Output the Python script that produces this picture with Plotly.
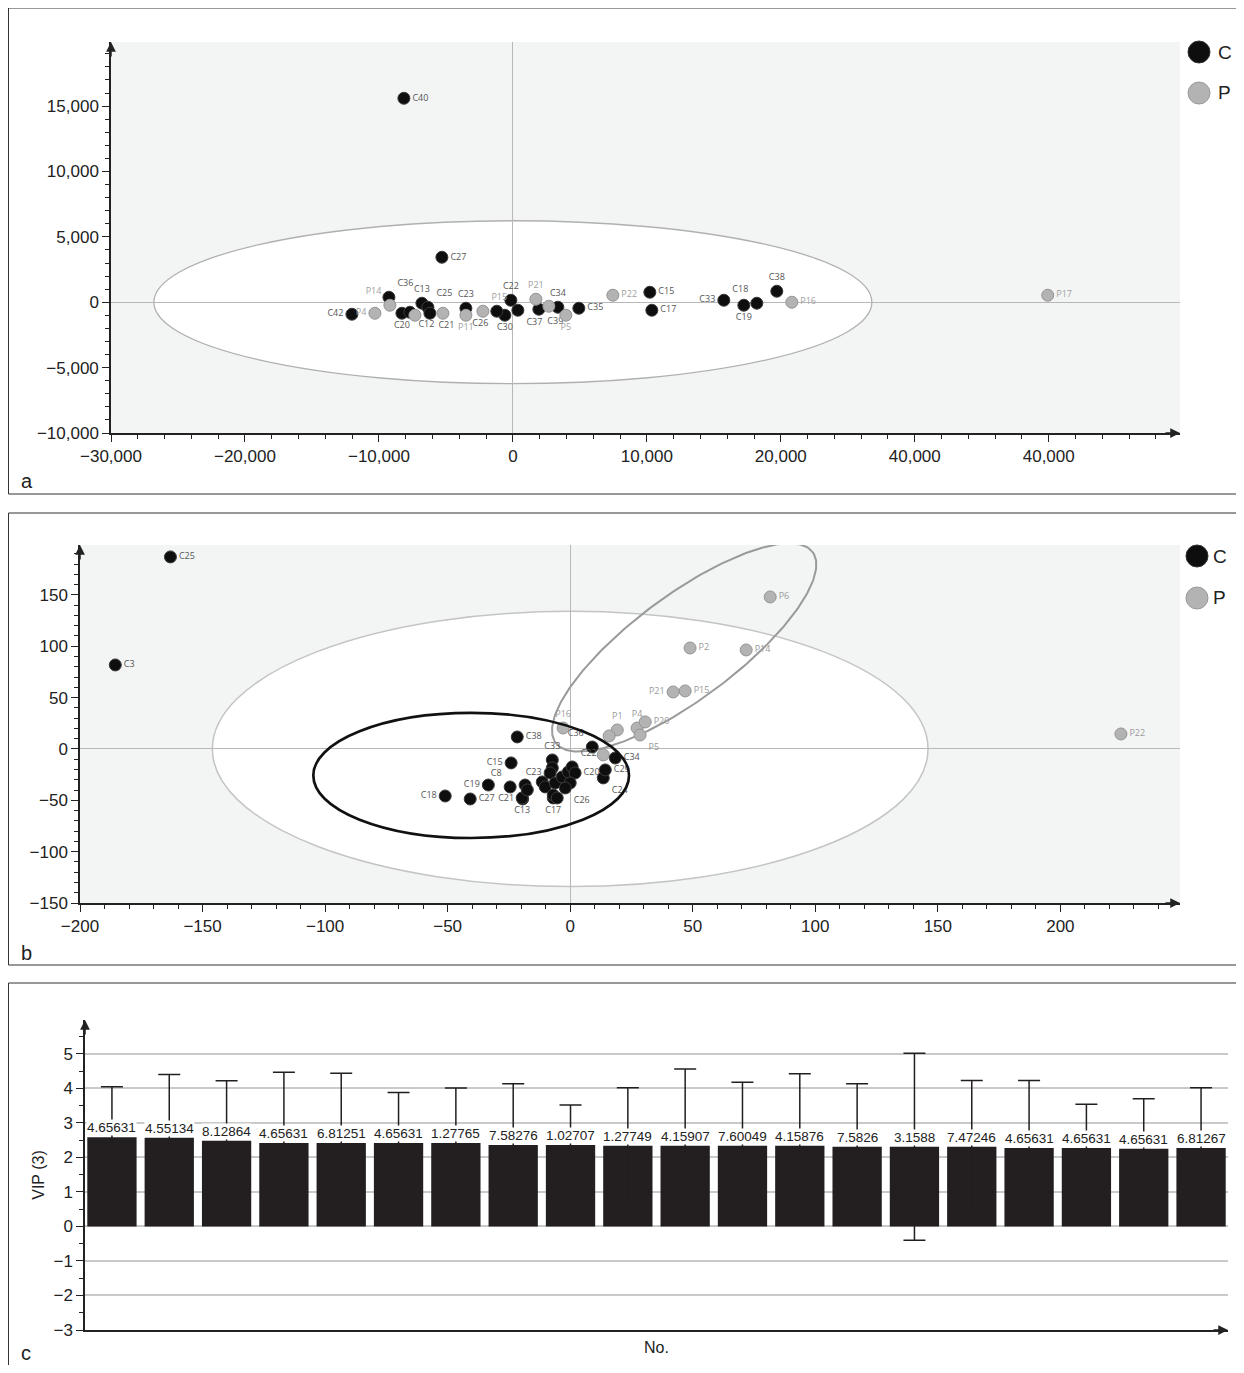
import numpy as np
import plotly.graph_objects as go

# ---------------- DATA ----------------
# Panel a (score plot)
a_C_names = ["C40", "C27", "C42", "C36", "C20", "C12", "C13", "C25", "C21", "C23", "C22", "C30", "C37", "C26",
             "C39", "C34", "C35", "C15", "C17", "C33", "C19", "C18", "C38"]
a_C_x = [-8135, -5299, -12015, -9254, -8284, -7687, -6791, -6343, -6194, -3508, -149, -597, 373, -1200,
         1940, 3358, 4925, 10224, 10373, 15747, 17240, 18210, 19702]
a_C_y = [15596, 3440, -917, 382, -841, -765, -76, -382, -841, -459, 153, -994, -612, -688,
         -535, -382, -459, 765, -612, 153, -229, -76, 841]
a_C_pos = ["middle right", "middle right", "middle left", "top right", "bottom center", "bottom right", "top center",
           "top right", "bottom right", "top center", "top center", "bottom center", "bottom right", "bottom left",
           "bottom right", "top center", "middle right", "middle right", "middle right", "middle left",
           "bottom center", "top left", "top center"]

a_P_names = ["P14", "P4", "", "", "P11", "P15", "P21", "", "P5", "P22", "P16", "P17"]
a_P_x = [-9179, -10299, -7314, -5224, -3508, -2239, 1716, 2687, 3955, 7463, 20822, 39927]
a_P_y = [-229, -841, -994, -841, -994, -688, 229, -306, -994, 535, 0, 535]
a_P_pos = ["top left", "middle left", "middle right", "middle right", "bottom center", "top right", "top center",
           "middle right", "bottom center", "middle right", "middle right", "middle right"]

a_xticks = [-30000, -20000, -10000, 0, 10000, 20000, 30000, 40000]
a_xticktext = ["\u221230,000", "\u221220,000", "\u221210,000", "0", "10,000", "20,000", "40,000", "40,000"]
a_yticks = [-10000, -5000, 0, 5000, 10000, 15000]
a_yticktext = ["\u221210,000", "\u22125,000", "0", "5,000", "10,000", "15,000"]

# Panel b
b_C_names = ["C25", "C3", "C38", "C36", "C15", "C19", "C27", "C18", "C21", "C8", "C13", "C17", "C24", "C29", "C34",
             "", "", "C33", "", "C23", "", "", "", "", "", "", "", "C22", "C20", "", "C26"]
b_C_x = [-163.1, -185.6, -21.6, 9.0, -24.1, -33.4, -40.8, -51.0, -19.4, -24.5, -19.6, -6.9, 13.5, 14.3, 18.4,
         -18.4, -17.5, -7.3, -7.3, -8.2, -11.4, -10.2, -6.1, -6.9, -5.3, -3.3, -0.8, 0.8, 2.0, 0.0, -2.0]
b_C_y = [187.0, 81.8, 11.7, 1.9, -13.6, -35.1, -48.7, -45.8, -48.7, -37.0, -47.7, -47.7, -28.2, -20.4, -8.8,
         -35.1, -39.9, -10.7, -18.5, -23.4, -32.1, -37.0, -33.1, -44.8, -47.7, -27.3, -22.4, -17.5, -23.4, -33.1, -38.0]
b_C_pos = ["middle right", "middle right", "middle right", "top left", "middle left", "middle left", "middle right",
           "middle left", "middle left", "top left", "bottom center", "bottom center", "bottom right",
           "middle right", "middle right", "middle right", "middle right", "top center", "middle right",
           "middle left", "middle right", "middle right", "middle right", "middle right", "middle right",
           "middle right", "middle right", "top right", "middle right", "middle right", "bottom right"]

b_P_names = ["P6", "P2", "P14", "P21", "P15", "P22", "P16", "P1", "", "P4", "P20", "P5", ""]
b_P_x = [81.6, 48.9, 71.8, 42.0, 46.9, 224.7, -2.9, 19.2, 15.9, 27.3, 30.6, 28.5, 13.5]
b_P_y = [148.0, 98.3, 96.4, 55.5, 56.5, 14.6, 20.4, 18.5, 12.7, 20.4, 26.3, 13.6, -5.8]
b_P_pos = ["middle right", "middle right", "middle right", "middle left", "middle right", "middle right",
           "top center", "top center", "middle right", "top center", "middle right", "bottom right", "middle right"]

b_xticks = [-200, -150, -100, -50, 0, 50, 100, 150, 200]
b_yticks = [-150, -100, -50, 0, 50, 100, 150]

# Panel c (VIP)
c_values = [2.58, 2.57, 2.48, 2.42, 2.42, 2.42, 2.42, 2.36, 2.36, 2.34,
            2.34, 2.34, 2.34, 2.31, 2.31, 2.31, 2.27, 2.27, 2.25, 2.27]
c_errors = [1.47, 1.83, 1.74, 2.05, 2.02, 1.46, 1.59, 1.77, 1.16, 1.68,
            2.22, 1.84, 2.08, 1.82, 2.71, 1.92, 1.96, 1.27, 1.45, 1.75]
c_labels = ["4.65631", "4.55134", "8.12864", "4.65631", "6.81251", "4.65631", "1.27765", "7.58276", "1.02707",
            "1.27749", "4.15907", "7.60049", "4.15876", "7.5826", "3.1588", "7.47246", "4.65631", "4.65631",
            "4.65631", "6.81267"]

# ---------------- LAYOUT CONSTANTS ----------------
OFF = 8                      # page body margin
W, H = 1236, 1357
FONT = "Liberation Sans, Arial, sans-serif"
NARROW = "Liberation Sans Narrow, Arial Narrow, Liberation Sans, sans-serif"
LBLFONT = "Open Sans, DejaVu Sans, sans-serif"
AXC = "#222222"
BG = "#f3f5f5"
CCOL, PCOL = "#0e0e0e", "#b3b3b3"
BARC = "#231f20"


def px_x(p):
    return (p - OFF) / W


def px_y(p):
    return 1 - (p - OFF) / H


a_xdom = [px_x(111), px_x(1180)]
a_ydom = [px_y(433), px_y(42)]
a_xr = [-30000, 49800]
a_yr = [-10000, 19900]

b_xdom = [px_x(80), px_x(1180)]
b_ydom = [px_y(903), px_y(545)]
b_xr = [-200, 248.8]
b_yr = [-150, 198.6]

c_xdom = [px_x(85), px_x(1228)]
c_ydom = [px_y(1330), px_y(1020)]
c_xr = [-0.47, 19.47]
c_yr = [-3, 5.98]

fig = go.Figure()

# ---------- traces panel a ----------
fig.add_trace(go.Scatter(x=a_C_x, y=a_C_y, text=a_C_names, mode="markers+text", textposition=a_C_pos,
                         marker=dict(size=12, color=CCOL, line=dict(color="#3a3a3a", width=1)),
                         textfont=dict(size=9, color="#555555", family=LBLFONT),
                         xaxis="x", yaxis="y", showlegend=False, cliponaxis=False))
fig.add_trace(go.Scatter(x=a_P_x, y=a_P_y, text=a_P_names, mode="markers+text", textposition=a_P_pos,
                         marker=dict(size=12, color=PCOL, line=dict(color="#949494", width=1)),
                         textfont=dict(size=9, color="#a0a0a0", family=LBLFONT),
                         xaxis="x", yaxis="y", showlegend=False, cliponaxis=False))

# ---------- rotated ellipse panel b (P group) ----------
sxb = (b_xdom[1] - b_xdom[0]) * W / (b_xr[1] - b_xr[0])   # px per unit x
syb = (b_ydom[1] - b_ydom[0]) * H / (b_yr[1] - b_yr[0])   # px per unit y
e_cx, e_cy = 46.5, 98.8
e_ra, e_rb, e_ang = 160, 52, 36.6
t = np.linspace(0, 2 * np.pi, 240)
th = np.deg2rad(e_ang)
ex = e_cx + (e_ra * np.cos(t) * np.cos(th) - e_rb * np.sin(t) * np.sin(th)) / sxb
ey = e_cy + (e_ra * np.cos(t) * np.sin(th) + e_rb * np.sin(t) * np.cos(th)) / syb
fig.add_trace(go.Scatter(x=ex, y=ey, mode="lines", line=dict(color="#9a9a9a", width=2),
                         xaxis="x2", yaxis="y2", showlegend=False, hoverinfo="skip", cliponaxis=False))

# ---------- traces panel b ----------
fig.add_trace(go.Scatter(x=b_P_x, y=b_P_y, text=b_P_names, mode="markers+text", textposition=b_P_pos,
                         marker=dict(size=12, color=PCOL, line=dict(color="#949494", width=1)),
                         textfont=dict(size=9, color="#9a9a9a", family=LBLFONT),
                         xaxis="x2", yaxis="y2", showlegend=False, cliponaxis=False))
fig.add_trace(go.Scatter(x=b_C_x, y=b_C_y, text=b_C_names, mode="markers+text", textposition=b_C_pos,
                         marker=dict(size=12, color=CCOL, line=dict(color="#3a3a3a", width=1)),
                         textfont=dict(size=9, color="#555555", family=LBLFONT),
                         xaxis="x2", yaxis="y2", showlegend=False, cliponaxis=False))

# ---------- panel c bars ----------
fig.add_trace(go.Bar(x=list(range(len(c_values))), y=c_values, width=0.86,
                     marker=dict(color=BARC, line=dict(width=0)),
                     error_y=dict(type="data", array=c_errors, visible=True, color=BARC,
                                  thickness=1.5, width=11),
                     xaxis="x3", yaxis="y3", showlegend=False))

# ---------------- AXES ----------------
common = dict(showline=True, linecolor=AXC, linewidth=1.5, ticks="outside", ticklen=7, tickwidth=1.3,
              tickcolor=AXC, tickfont=dict(family=FONT, size=17, color=AXC), showgrid=False, mirror=False)

fig.update_layout(
    xaxis=dict(domain=a_xdom, range=a_xr, anchor="y", tickmode="array", tickvals=a_xticks, ticktext=a_xticktext,
               zeroline=True, zerolinecolor="#b8b8b8", zerolinewidth=1.3,
               minor=dict(tickmode="linear", tick0=0, dtick=2000, ticklen=4, tickwidth=1, tickcolor=AXC,
                          ticks="outside", showgrid=False), **common),
    yaxis=dict(domain=a_ydom, range=a_yr, anchor="x", tickmode="array", tickvals=a_yticks, ticktext=a_yticktext,
               zeroline=True, zerolinecolor="#b8b8b8", zerolinewidth=1.3,
               minor=dict(tickmode="linear", tick0=0, dtick=1000, ticklen=4, tickwidth=1, tickcolor=AXC,
                          ticks="outside", showgrid=False), **common),
    xaxis2=dict(domain=b_xdom, range=b_xr, anchor="y2", tickmode="array", tickvals=b_xticks,
                zeroline=True, zerolinecolor="#b8b8b8", zerolinewidth=1.3,
                minor=dict(tickmode="linear", tick0=0, dtick=10, ticklen=4, tickwidth=1, tickcolor=AXC,
                           ticks="outside", showgrid=False), **common),
    yaxis2=dict(domain=b_ydom, range=b_yr, anchor="x2", tickmode="array", tickvals=b_yticks,
                zeroline=True, zerolinecolor="#b8b8b8", zerolinewidth=1.3,
                minor=dict(tickmode="linear", tick0=0, dtick=10, ticklen=4, tickwidth=1, tickcolor=AXC,
                           ticks="outside", showgrid=False), **common),
    xaxis3=dict(domain=c_xdom, range=c_xr, anchor="y3", showline=True, linecolor=AXC, linewidth=1.5,
                showticklabels=False, ticks="", showgrid=False, zeroline=False,
                title=dict(text="No.", font=dict(family=FONT, size=16, color=AXC), standoff=11)),
    yaxis3=dict(domain=c_ydom, range=c_yr, anchor="x3", tickmode="linear", tick0=0, dtick=1,
                showline=True, linecolor=AXC, linewidth=1.5, ticks="outside", ticklen=7, tickwidth=1.3,
                tickcolor=AXC, tickfont=dict(family=FONT, size=17, color=AXC),
                showgrid=True, gridcolor="#c9c9c9", gridwidth=1.5, zeroline=True, zerolinecolor="#c9c9c9",
                zerolinewidth=1.5,
                minor=dict(tickmode="linear", tick0=0, dtick=0.5, ticklen=4, tickwidth=1, tickcolor=AXC,
                           ticks="outside", showgrid=False),
                title=dict(text="VIP (3)", font=dict(family=FONT, size=16, color=AXC), standoff=5)),
)

# ---------------- SHAPES ----------------
shapes = []
for xr, yr in (("x", "y"), ("x2", "y2")):
    shapes.append(dict(type="rect", xref=xr + " domain", yref=yr + " domain", x0=0, x1=1, y0=0, y1=1,
                       fillcolor=BG, line=dict(width=0), layer="below"))
# panel a ellipse
a_ell = (26800, 6230)
shapes.append(dict(type="circle", xref="x", yref="y", x0=-a_ell[0], x1=a_ell[0], y0=-a_ell[1], y1=a_ell[1],
                   fillcolor="white", line=dict(color="#b0b0b0", width=1.3), layer="below"))
# panel b big ellipse
b_ell = (146, 134)
shapes.append(dict(type="circle", xref="x2", yref="y2", x0=-b_ell[0], x1=b_ell[0], y0=-b_ell[1], y1=b_ell[1],
                   fillcolor="white", line=dict(color="#c4c4c4", width=1.5), layer="below"))
# panel b black ellipse
bc_c, bc_r = (-40.4, -25.8), (64.4, 60.9)
shapes.append(dict(type="circle", xref="x2", yref="y2", x0=bc_c[0] - bc_r[0], x1=bc_c[0] + bc_r[0],
                   y0=bc_c[1] - bc_r[1], y1=bc_c[1] + bc_r[1],
                   line=dict(color="#111111", width=2.7), layer="above"))

# panel borders
for top, bot in ((8, 494), (513, 965), (983, 1390)):
    shapes.append(dict(type="rect", xref="paper", yref="paper", x0=px_x(8.5), x1=px_x(1243),
                       y0=px_y(bot), y1=px_y(top), line=dict(color="#333333", width=1), layer="above"))

# legend markers
for cy, col, lc in ((52, CCOL, "#333"), (93, PCOL, "#999")):
    shapes.append(dict(type="circle", xref="paper", yref="paper", x0=px_x(1188), x1=px_x(1210),
                       y0=px_y(cy + 11), y1=px_y(cy - 11), fillcolor=col, line=dict(color=lc, width=1)))
for cy, col, lc in ((556, CCOL, "#333"), (598, PCOL, "#999")):
    shapes.append(dict(type="circle", xref="paper", yref="paper", x0=px_x(1186), x1=px_x(1208),
                       y0=px_y(cy + 11), y1=px_y(cy - 11), fillcolor=col, line=dict(color=lc, width=1)))

fig.update_layout(shapes=shapes)

# ---------------- ANNOTATIONS ----------------
ann = []
for cy, txt in ((52, "C"), (93, "P")):
    ann.append(dict(xref="paper", yref="paper", x=px_x(1216), y=px_y(cy), text=txt, showarrow=False,
                    xanchor="left", yanchor="middle", font=dict(family=FONT, size=19, color="#222")))
for cy, txt in ((556, "C"), (598, "P")):
    ann.append(dict(xref="paper", yref="paper", x=px_x(1211), y=px_y(cy), text=txt, showarrow=False,
                    xanchor="left", yanchor="middle", font=dict(family=FONT, size=19, color="#222")))
for cy, txt in ((481, "a"), (953, "b"), (1353, "c")):
    ann.append(dict(xref="paper", yref="paper", x=px_x(19), y=px_y(cy), text=txt, showarrow=False,
                    xanchor="left", yanchor="middle", font=dict(family=FONT, size=20, color="#222")))
for xd, yd in ((a_xdom, a_ydom), (b_xdom, b_ydom), (c_xdom, c_ydom)):
    ann.append(dict(xref="paper", yref="paper", x=xd[0], y=yd[1], ax=0, ay=16, text="", showarrow=True,
                    arrowhead=2, arrowsize=1.3, arrowwidth=1.5, arrowcolor=AXC, standoff=0))
    ann.append(dict(xref="paper", yref="paper", x=xd[1], y=yd[0], ax=-16, ay=0, text="", showarrow=True,
                    arrowhead=2, arrowsize=1.3, arrowwidth=1.5, arrowcolor=AXC, standoff=0))
for i, (v, lab) in enumerate(zip(c_values, c_labels)):
    ann.append(dict(xref="x3", yref="y3", x=i, y=v, text=lab, showarrow=False, yanchor="bottom", yshift=1,
                    bgcolor="white", borderpad=0, font=dict(family=NARROW, size=13.5, color="#222")))

fig.update_layout(annotations=ann)

fig.update_layout(width=W, height=H, margin=dict(l=0, r=0, t=0, b=0, autoexpand=False),
                  paper_bgcolor="white", plot_bgcolor="white", showlegend=False,
                  font=dict(family=FONT, color="#222"))

fig.write_html("out.html")
